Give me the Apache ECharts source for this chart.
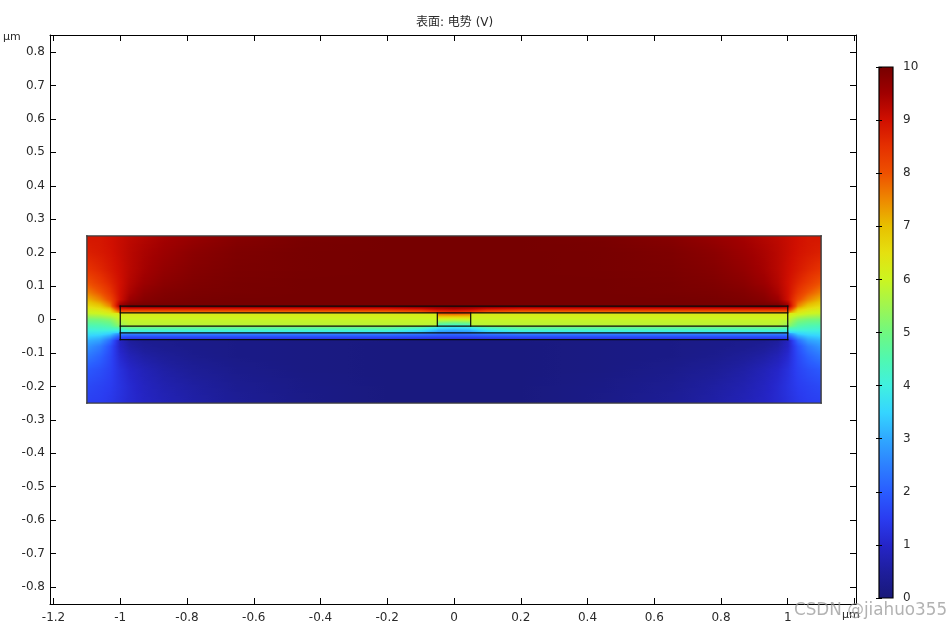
<!DOCTYPE html>
<html>
<head>
<meta charset="utf-8">
<style>html,body{margin:0;padding:0;background:#fff}#c{width:950px;height:627px}</style>
<script src="https://cdn.jsdelivr.net/npm/echarts@6/dist/echarts.min.js"></script>
</head>
<body>
<div id="c"></div>
<script>
const titleText = '表面: 电势 (V)';
const unitText = 'µm';
const watermark = 'CSDN @jiahuo355';
const xTicks = [-1.2,-1,-0.8,-0.6,-0.4,-0.2,0,0.2,0.4,0.6,0.8,1,1.2];
const xTickLabels = [-1.2,-1,-0.8,-0.6,-0.4,-0.2,0,0.2,0.4,0.6,0.8,1];
const yTicks = [-0.8,-0.7,-0.6,-0.5,-0.4,-0.3,-0.2,-0.1,0,0.1,0.2,0.3,0.4,0.5,0.6,0.7,0.8];
const colorTicks = [0,1,2,3,4,5,6,7,8,9,10];

const colorValues = [0,0.5,1,1.5,2,2.5,3,3.5,4,4.5,5,5.5,6,6.5,7,7.5,8,8.5,9,9.5,10];
const colorRGB = [
 [24,24,120],[30,30,156],[37,37,200],[42,60,240],[42,92,255],[45,128,255],[48,168,255],[53,213,255],
 [64,240,224],[80,248,176],[112,248,128],[160,245,80],[204,245,32],[229,224,16],[232,192,0],[238,136,0],
 [238,80,0],[229,48,0],[208,15,0],[160,0,0],[118,0,0]];

// Potential at these positions (µm)
const fieldX = [-1.1,-1.06,-1.03,-1,-0.97,-0.93,-0.87,-0.78,-0.65,-0.45,-0.2,-0.1,-0.052,-0.048,0,0.048,0.052,0.1,0.2,0.45,0.65,0.78,0.87,0.93,0.97,1,1.03,1.06,1.1];
const fieldY = [0.25,0.2,0.15,0.11,0.08,0.06,0.04,0.03,0.02,0.018,0,-0.02,-0.022,-0.03,-0.04,-0.042,-0.05,-0.06,-0.063,-0.08,-0.11,-0.15,-0.2,-0.25];
const fieldV = [
[8.9,8.9,9,9.1,9.2,9.3,9.45,9.6,9.8,9.95,10,10,10,10,10,10,10,10,10,9.95,9.8,9.6,9.45,9.3,9.2,9.1,9,8.9,8.9],
[8.75,8.85,8.95,9.1,9.25,9.4,9.55,9.75,9.9,9.98,10,10,10,10,10,10,10,10,10,9.98,9.9,9.75,9.55,9.4,9.25,9.1,8.95,8.85,8.75],
[8.45,8.65,8.85,9.05,9.25,9.45,9.65,9.82,9.93,9.98,10,10,10,10,10,10,10,10,10,9.98,9.93,9.82,9.65,9.45,9.25,9.05,8.85,8.65,8.45],
[8,8.35,8.65,9,9.3,9.55,9.75,9.88,9.96,10,10,10,10,10,10,10,10,10,10,10,9.96,9.88,9.75,9.55,9.3,9,8.65,8.35,8],
[7.55,7.95,8.4,9,9.4,9.7,9.85,9.93,9.97,10,10,10,10,10,10,10,10,10,10,10,9.97,9.93,9.85,9.7,9.4,9,8.4,7.95,7.55],
[7.1,7.55,8.1,9,9.55,9.8,9.9,9.97,10,10,10,10,10,10,10,10,10,10,10,10,10,9.97,9.9,9.8,9.55,9,8.1,7.55,7.1],
[6.55,6.85,7.5,9.6,10,10,10,10,10,10,10,10,10,10,10,10,10,10,10,10,10,10,10,10,10,9.6,7.5,6.85,6.55],
[6.2,6.4,6.8,8.6,8.6,8.6,8.6,8.6,8.6,8.6,8.6,8.8,9.1,9.1,9.2,9.1,9.1,8.8,8.6,8.6,8.6,8.6,8.6,8.6,8.6,8.6,6.8,6.4,6.2],
[5.95,6.05,6.3,7.4,7.4,7.4,7.4,7.4,7.4,7.4,7.4,7.6,8.1,8.2,8.3,8.2,8.1,7.6,7.4,7.4,7.4,7.4,7.4,7.4,7.4,7.4,6.3,6.05,5.95],
[5.9,6,6.2,6.3,6.3,6.3,6.3,6.3,6.3,6.3,6.3,6.3,6.3,7.9,8,7.9,6.3,6.3,6.3,6.3,6.3,6.3,6.3,6.3,6.3,6.3,6.2,6,5.9],
[5.05,5.1,5.25,5.85,5.95,5.95,5.95,5.95,5.95,5.95,5.95,5.95,5.95,6,5.9,6,5.95,5.95,5.95,5.95,5.95,5.95,5.95,5.95,5.95,5.85,5.25,5.1,5.05],
[4.4,4.45,4.6,5.3,5.75,5.75,5.75,5.75,5.75,5.75,5.75,5.75,5.7,4.1,4,4.1,5.7,5.75,5.75,5.75,5.75,5.75,5.75,5.75,5.75,5.3,4.6,4.45,4.4],
[4.35,4.4,4.5,4.9,5.1,5.1,5.1,5.1,5.1,5.1,5.1,4.7,4.2,4,3.9,4,4.2,4.7,5.1,5.1,5.1,5.1,5.1,5.1,5.1,4.9,4.5,4.4,4.35],
[4.1,4.15,4.2,4.2,4.4,4.4,4.4,4.4,4.4,4.4,4.4,3.9,3.4,3.3,3.2,3.3,3.4,3.9,4.4,4.4,4.4,4.4,4.4,4.4,4.4,4.2,4.2,4.15,4.1],
[3.8,3.75,3.6,3.4,3.6,3.6,3.6,3.6,3.6,3.6,3.6,3.2,2.7,2.65,2.55,2.65,2.7,3.2,3.6,3.6,3.6,3.6,3.6,3.6,3.6,3.4,3.6,3.75,3.8],
[3.75,3.7,3.5,2.7,2.6,2.6,2.6,2.6,2.6,2.6,2.6,2.5,2.4,2.35,2.3,2.35,2.4,2.5,2.6,2.6,2.6,2.6,2.6,2.6,2.6,2.7,3.5,3.7,3.75],
[3.5,3.35,3,2,1.9,1.9,1.9,1.9,1.9,1.9,1.9,1.85,1.8,1.8,1.8,1.8,1.8,1.85,1.9,1.9,1.9,1.9,1.9,1.9,1.9,2,3,3.35,3.5],
[3.2,3,2.4,1.3,1.2,1.2,1.2,1.2,1.2,1.2,1.2,1.15,1.1,1.1,1.1,1.1,1.1,1.15,1.2,1.2,1.2,1.2,1.2,1.2,1.2,1.3,2.4,3,3.2],
[3.1,2.9,2.25,0.9,0.5,0.35,0.3,0.25,0.2,0.15,0.12,0.1,0.1,0.1,0.1,0.1,0.1,0.1,0.12,0.15,0.2,0.25,0.3,0.35,0.5,0.9,2.25,2.9,3.1],
[2.8,2.45,1.85,0.95,0.6,0.42,0.32,0.25,0.2,0.15,0.1,0.1,0.1,0.1,0.1,0.1,0.1,0.1,0.1,0.15,0.2,0.25,0.32,0.42,0.6,0.95,1.85,2.45,2.8],
[2.4,2.1,1.7,1.1,0.8,0.6,0.45,0.3,0.2,0.15,0.1,0.1,0.1,0.1,0.1,0.1,0.1,0.1,0.1,0.15,0.2,0.3,0.45,0.6,0.8,1.1,1.7,2.1,2.4],
[1.95,1.8,1.6,1.25,1,0.8,0.6,0.42,0.27,0.15,0.1,0.1,0.1,0.1,0.1,0.1,0.1,0.1,0.1,0.15,0.27,0.42,0.6,0.8,1,1.25,1.6,1.8,1.95],
[1.7,1.6,1.5,1.3,1.1,0.9,0.72,0.55,0.35,0.2,0.1,0.1,0.1,0.1,0.1,0.1,0.1,0.1,0.1,0.2,0.35,0.55,0.72,0.9,1.1,1.3,1.5,1.6,1.7],
[1.55,1.5,1.4,1.25,1.1,0.95,0.8,0.62,0.42,0.22,0.1,0.1,0.1,0.1,0.1,0.1,0.1,0.1,0.1,0.22,0.42,0.62,0.8,0.95,1.1,1.25,1.4,1.5,1.55]
];

// Device geometry (µm): x1, y1, x2, y2
const outerBox = [[-1.1,0.25,1.1,0.25],[1.1,0.25,1.1,-0.25],[1.1,-0.25,-1.1,-0.25],[-1.1,-0.25,-1.1,0.25]];
const layerLines = [
 [-1,0.04,1,0.04],[-1,0.02,1,0.02],[-1,-0.02,1,-0.02],[-1,-0.04,1,-0.04],[-1,-0.06,1,-0.06],
 [-1,0.04,-1,-0.06],[1,0.04,1,-0.06],[-0.05,0.02,-0.05,-0.02],[0.05,0.02,0.05,-0.02]];

function colorOf(v){
  v = Math.max(0, Math.min(10, v));
  let i = 0;
  while (i < colorValues.length - 2 && v > colorValues[i+1]) i++;
  const t = (v - colorValues[i]) / (colorValues[i+1] - colorValues[i]);
  const a = colorRGB[i], b = colorRGB[i+1];
  return 'rgb(' + [0,1,2].map(k => Math.round(a[k] + (b[k]-a[k])*t)).join(',') + ')';
}

const cells = [];
for (let r = 0; r < fieldY.length - 1; r++) {
  for (let c = 0; c < fieldX.length - 1; c++) {
    cells.push([fieldX[c], fieldX[c+1], fieldY[r], fieldY[r+1],
      fieldV[r][c], fieldV[r][c+1], fieldV[r+1][c], fieldV[r+1][c+1]]);
  }
}

// Shades one table cell between its four read corners, pixel row by pixel row.
function renderCell(params, api){
  const a = api.coord([api.value(0), api.value(2)]);
  const b = api.coord([api.value(1), api.value(3)]);
  const v00 = api.value(4), v10 = api.value(5), v01 = api.value(6), v11 = api.value(7);
  const L = Math.round(a[0]), R = Math.round(b[0]), T = Math.round(a[1]), B = Math.round(b[1]);
  const children = [];
  if (R > L) {
    for (let py = T; py < B; py++) {
      const t = Math.max(0, Math.min(1, (py + 0.5 - a[1]) / (b[1] - a[1])));
      const vl = v00 + (v01 - v00) * t, vr = v10 + (v11 - v10) * t;
      const stops = [0,0.25,0.5,0.75,1].map(s => ({offset:s, color:colorOf(vl + (vr - vl) * s)}));
      children.push({type:'rect', silent:true,
        shape:{x:L, y:py, width:R-L, height:1},
        style:{fill:{type:'linear', x:0, y:0, x2:1, y2:0, colorStops:stops}}});
    }
  }
  return {type:'group', children};
}

function renderSegment(width, color){
  return function(params, api){
    const p = api.coord([api.value(0), api.value(1)]);
    const q = api.coord([api.value(2), api.value(3)]);
    return {type:'line', silent:true,
      shape:{x1:p[0], y1:p[1], x2:q[0], y2:q[1]},
      style:{stroke:color, lineWidth:width, lineCap:'square'}};
  };
}

function renderColorbar(params, api){
  const a = api.coord([0, 10]), b = api.coord([1, 0]);
  return {type:'rect', silent:true,
    shape:{x:a[0], y:a[1], width:b[0]-a[0], height:b[1]-a[1]},
    style:{stroke:'#000', lineWidth:1.2, fill:{type:'linear', x:0, y:1, x2:0, y2:0,
      colorStops:colorValues.map((v,i) => ({offset:v/10, color:colorOf(v)}))}}};
}

const xRange = {min:-1.2105, max:1.2045};
const yRange = {min:-0.8507, max:0.8508};
const frame = {lineStyle:{color:'#000', width:1}};
const labelFont = {fontFamily:'DejaVu Sans', fontSize:12, color:'#2a2a2a'};

const chart = echarts.init(document.getElementById('c'), null, {width:950, height:627, renderer:'canvas'});
chart.setOption({
  animation:false,
  backgroundColor:'#fff',
  title:{text:titleText, left:411, top:12,
    textStyle:{fontFamily:'DejaVu Sans, Noto Sans CJK SC', fontSize:12, fontWeight:'normal', color:'#2a2a2a'}},
  grid:[
    {left:50, top:35, width:806, height:569},
    {left:879, top:67, width:14, height:531}
  ],
  xAxis:[
    {gridIndex:0, type:'value', position:'bottom', ...xRange, splitLine:{show:false}, axisLine:{show:true, onZero:false, ...frame},
      axisTick:{show:true, inside:true, length:6, customValues:xTicks, lineStyle:{color:'#000'}},
      axisLabel:{show:true, margin:8, customValues:xTickLabels, ...labelFont}},
    {gridIndex:0, type:'value', position:'top', ...xRange, splitLine:{show:false}, axisLine:{show:true, onZero:false, ...frame},
      axisTick:{show:true, inside:true, length:6, customValues:xTicks, lineStyle:{color:'#000'}},
      axisLabel:{show:false}},
    {gridIndex:1, type:'value', min:0, max:1, show:false}
  ],
  yAxis:[
    {gridIndex:0, type:'value', position:'left', ...yRange, splitLine:{show:false}, axisLine:{show:true, onZero:false, ...frame},
      axisTick:{show:true, inside:true, length:6, customValues:yTicks, lineStyle:{color:'#000'}},
      axisLabel:{show:true, margin:5, padding:[3,0,0,0], customValues:yTicks, ...labelFont}},
    {gridIndex:0, type:'value', position:'right', ...yRange, splitLine:{show:false}, axisLine:{show:true, onZero:false, ...frame},
      axisTick:{show:true, inside:true, length:6, customValues:yTicks, lineStyle:{color:'#000'}},
      axisLabel:{show:false}},
    {gridIndex:1, type:'value', position:'right', min:0, max:10, z:6, splitLine:{show:false}, axisLine:{show:false},
      axisTick:{show:true, inside:true, length:3, customValues:colorTicks, lineStyle:{color:'#000'}},
      axisLabel:{show:true, margin:10, customValues:colorTicks, ...labelFont}},
    {gridIndex:1, type:'value', position:'left', min:0, max:10, z:6, splitLine:{show:false}, axisLine:{show:false},
      axisTick:{show:true, inside:true, length:3, customValues:colorTicks, lineStyle:{color:'#000'}},
      axisLabel:{show:false}}
  ],
  series:[
    {type:'custom', name:'field', xAxisIndex:0, yAxisIndex:0, data:cells, renderItem:renderCell,
      encode:{x:[0,1], y:[2,3]}, clip:false, silent:true, progressive:0, animation:false, z:2},
    {type:'custom', name:'outer', xAxisIndex:0, yAxisIndex:0, data:outerBox, renderItem:renderSegment(1.4,'#3c3c3c'),
      encode:{x:[0,2], y:[1,3]}, silent:true, animation:false, z:3},
    {type:'custom', name:'layers', xAxisIndex:0, yAxisIndex:0, data:layerLines, renderItem:renderSegment(1.2,'#0a0a0a'),
      encode:{x:[0,2], y:[1,3]}, silent:true, animation:false, z:4},
    {type:'custom', name:'colorbar', xAxisIndex:2, yAxisIndex:2, data:[[0,0]], renderItem:renderColorbar,
      encode:{x:0, y:1}, silent:true, animation:false, z:2}
  ],
  graphic:[
    {type:'text', left:3, top:32, silent:true, style:{text:unitText, fontFamily:'DejaVu Sans', fontSize:11, fill:'#2a2a2a'}},
    {type:'text', left:842, top:610, silent:true, style:{text:unitText, fontFamily:'DejaVu Sans', fontSize:11, fill:'#2a2a2a'}},
    {type:'text', left:794, top:602, z:100, silent:true, style:{text:watermark, fontFamily:'DejaVu Sans', fontSize:16.8, fill:'rgba(145,145,145,0.7)'}}
  ]
});
</script>
</body>
</html>
